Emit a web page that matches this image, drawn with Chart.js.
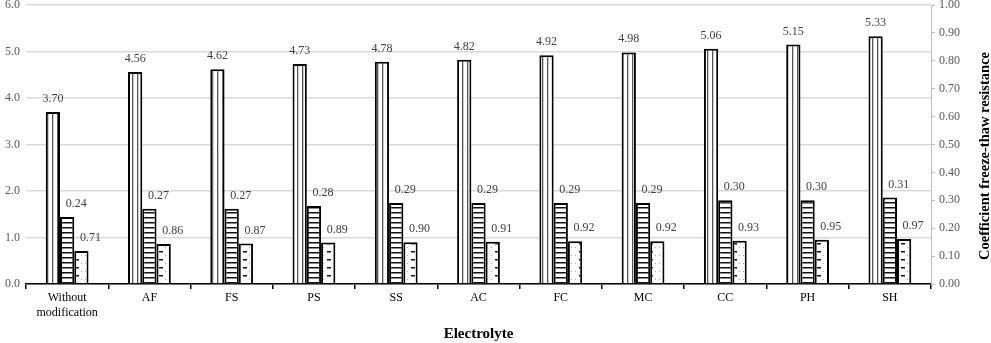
<!DOCTYPE html>
<html>
<head>
<meta charset="utf-8">
<script src="https://cdn.jsdelivr.net/npm/chart.js@4.4.0/dist/chart.umd.min.js"></script>
<style>
  html, body { margin: 0; padding: 0; background: #fff; }
  #wrap { width: 991px; height: 343px; }
</style>
</head>
<body>
<div id="wrap"><canvas id="chartFT"></canvas></div>
<script>
const categories = [["Without", "modification"], "AF", "FS", "PS", "SS", "AC", "FC", "MC", "CC", "PH", "SH"];
const strengthVals = [3.70, 4.56, 4.62, 4.73, 4.78, 4.82, 4.92, 4.98, 5.06, 5.15, 5.33];
const coefVals = [0.24, 0.27, 0.27, 0.28, 0.29, 0.29, 0.29, 0.29, 0.30, 0.30, 0.31];
const thirdVals = [0.71, 0.86, 0.87, 0.89, 0.90, 0.91, 0.92, 0.92, 0.93, 0.95, 0.97];

const serif = "'Liberation Serif', 'Times New Roman', serif";

function makePattern(kind) {
  const c = document.createElement("canvas");
  const ctx = c.getContext("2d");
  if (kind === "vert") {
    c.width = 5; c.height = 4;
    ctx.fillStyle = "#fff"; ctx.fillRect(0, 0, 5, 4);
    ctx.fillStyle = "#555"; ctx.fillRect(2, 0, 1.3, 4);
  } else if (kind === "horz") {
    c.width = 4; c.height = 5;
    ctx.fillStyle = "#fff"; ctx.fillRect(0, 0, 4, 5);
    ctx.fillStyle = "#111"; ctx.fillRect(0, 2, 4, 1.5);
  } else {
    c.width = 14; c.height = 8;
    ctx.fillStyle = "#fff"; ctx.fillRect(0, 0, 14, 8);
    ctx.fillStyle = "#111"; ctx.fillRect(5, 3, 4, 1.5);
    ctx.fillStyle = "#aaa";
    ctx.fillRect(1, 7, 1, 1); ctx.fillRect(11, 7, 1, 1);
  }
  return ctx.createPattern(c, "repeat");
}

// value labels above the bars, plus the right axis title (reads bottom to top)
const labelPlugin = {
  id: "barLabels",
  afterDatasetsDraw(chart) {
    const ctx = chart.ctx;
    ctx.save();
    ctx.font = "12px " + serif;
    ctx.fillStyle = "#404040";
    ctx.textAlign = "center";
    ctx.textBaseline = "alphabetic";
    chart.data.datasets.forEach((ds, i) => {
      const meta = chart.getDatasetMeta(i);
      meta.data.forEach((bar, j) => {
        const dx = i === 0 ? 0 : 9;
        ctx.fillText(ds.data[j].toFixed(2), bar.x + dx, bar.y - 10);
      });
    });
    ctx.translate(985, 156);
    ctx.rotate(-Math.PI / 2);
    ctx.font = "bold 14.5px " + serif;
    ctx.fillStyle = "#000";
    ctx.textBaseline = "middle";
    ctx.fillText("Coefficient freeze-thaw resistance", 0, 0);
    ctx.restore();
  }
};

function noPad(s) {
  s.paddingTop = 0;
  s.paddingBottom = 0;
}

const data = {
  labels: categories,
  datasets: [
    {
      label: "Strength",
      data: strengthVals,
      yAxisID: "y",
      backgroundColor: makePattern("vert"),
      borderColor: "#000",
      borderWidth: 2,
    },
    {
      label: "Coefficient freeze-thaw resistance",
      data: coefVals,
      yAxisID: "y2",
      backgroundColor: makePattern("horz"),
      borderColor: "#000",
      borderWidth: 2,
    },
    {
      label: "Third",
      data: thirdVals,
      yAxisID: "y",
      backgroundColor: makePattern("dash"),
      borderColor: "#000",
      borderWidth: 2,
    },
  ],
};

const config = {
  type: "bar",
  data,
  plugins: [labelPlugin],
  options: {
    responsive: true,
    maintainAspectRatio: false,
    animation: false,
    layout: { padding: { top: 5, left: 0, right: 0, bottom: 0 } },
    plugins: { legend: { display: false }, tooltip: { enabled: false } },
    datasets: { bar: { categoryPercentage: 0.52, barPercentage: 1.0, borderSkipped: "bottom" } },
    scales: {
      x: {
        grid: { drawOnChartArea: false, offset: true, color: "#000", tickLength: 5, lineWidth: 1.5 },
        border: { color: "#000", width: 1.5 },
        ticks: { color: "#000", font: { family: serif, size: 12 }, maxRotation: 0, padding: 2 },
        title: { display: true, text: "Electrolyte", color: "#000", font: { family: serif, size: 15, weight: "bold" }, padding: { top: 19, bottom: 0 } },
        afterFit(s) { s.height = 59; s.paddingLeft = 0; s.paddingRight = 0; },
      },
      y: {
        position: "left",
        min: 0, max: 6,
        ticks: { stepSize: 1, color: "#595959", font: { family: serif, size: 12 }, callback: v => v.toFixed(1), padding: 6 },
        grid: { color: "#d9d9d9", lineWidth: 1.5, drawTicks: false },
        border: { display: false },
        afterFit(s) { s.width = 26; noPad(s); },
      },
      y2: {
        position: "right",
        min: 0, max: 1,
        ticks: { stepSize: 0.1, color: "#595959", font: { family: serif, size: 12 }, callback: v => v.toFixed(2), padding: 4 },
        grid: { drawOnChartArea: false, color: "#bfbfbf", tickLength: 4 },
        border: { color: "#bfbfbf", width: 1 },
        afterFit(s) { s.width = 60; noPad(s); },
      },
    },
  },
};

const chartFT = new Chart(document.getElementById("chartFT"), config);
</script>
</body>
</html>
